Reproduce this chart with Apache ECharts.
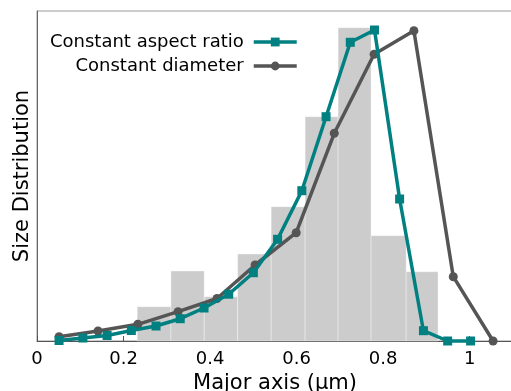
<!DOCTYPE html>
<html>
<head>
<meta charset="utf-8">
<script src="https://cdn.jsdelivr.net/npm/echarts@6/dist/echarts.min.js"></script>
<style>
  html, body { margin: 0; padding: 0; background: #fff; }
  #chart { width: 511px; height: 391px; }
</style>
</head>
<body>
<div id="chart"></div>
<script>
// histogram bins (um) and heights
var binLeft  = [0.2316, 0.3095, 0.3864, 0.4637, 0.5411, 0.6196, 0.6958, 0.7720, 0.8531];
var binRight = [0.3095, 0.3864, 0.4637, 0.5411, 0.6196, 0.6958, 0.7720, 0.8531, 0.9268];
var binHeight = [0.343, 0.70, 0.443, 0.87, 1.343, 2.243, 3.133, 1.053, 0.693];

// constant aspect ratio curve
var aspectX = [0.051, 0.106, 0.162, 0.218, 0.275, 0.331, 0.386, 0.443, 0.500, 0.556,
               0.612, 0.668, 0.724, 0.780, 0.838, 0.893, 0.949, 1.002];
var aspectY = [0.005, 0.03, 0.055, 0.105, 0.15, 0.223, 0.33, 0.468, 0.683, 1.017,
               1.503, 2.243, 2.987, 3.11, 1.42, 0.103, 0, 0];

// constant diameter curve
var diamX = [0.051, 0.141, 0.233, 0.326, 0.416, 0.504, 0.599, 0.687, 0.779, 0.871, 0.962, 1.054];
var diamY = [0.043, 0.10, 0.167, 0.293, 0.425, 0.76, 1.083, 2.077, 2.867, 3.103, 0.643, 0];

var xTicks = [0, 0.2, 0.4, 0.6, 0.8, 1];

var font = 'DejaVu Sans';
var teal = '#008080';
var grey = '#555555';

function zip(a, b) {
    return a.map(function (v, i) { return [v, b[i]]; });
}

var myChart = echarts.init(document.getElementById('chart'));

var option = {
    animation: false,
    grid: {
        left: 37, top: 11, right: -2, bottom: 50,
        outerBoundsMode: 'none',
        containLabel: false,
        show: true, borderColor: '#999', borderWidth: 1
    },
    legend: {
        data: ['Constant aspect ratio', 'Constant diameter'],
        orient: 'vertical',
        align: 'right',
        left: 50, top: 33,
        padding: 0,
        itemWidth: 43, itemHeight: 11, itemGap: 6,
        lineStyle: { width: 3.5 },
        textStyle: { fontFamily: font, fontSize: 18, lineHeight: 18, color: '#000', padding: [0, 5, 0, 0] }
    },
    xAxis: {
        type: 'value',
        min: 0, max: 1.1, interval: 0.2,
        name: 'Major axis (µm)',
        nameLocation: 'middle',
        nameGap: 29,
        nameTextStyle: { fontFamily: font, fontSize: 21, color: '#000' },
        axisLine: { lineStyle: { color: '#555', width: 1 } },
        axisTick: { inside: true, length: 5, lineStyle: { color: '#555' } },
        axisLabel: {
            fontFamily: font, fontSize: 18, color: '#000', margin: 9,
            showMaxLabel: false,
            formatter: function (v) {
                return xTicks.indexOf(Math.round(v * 10) / 10) >= 0 ? String(Math.round(v * 10) / 10) : '';
            }
        },
        splitLine: { show: false }
    },
    yAxis: {
        type: 'value',
        min: 0, max: 3.3,
        name: 'Size Distribution',
        nameLocation: 'middle',
        nameGap: 4,
        nameTextStyle: { fontFamily: font, fontSize: 21, color: '#000' },
        axisLine: { show: true, lineStyle: { color: '#666', width: 1 } },
        axisTick: { show: false },
        axisLabel: { show: false },
        splitLine: { show: false }
    },
    series: [
        {
            type: 'custom',
            name: 'hist',
            data: binLeft.map(function (l, i) { return [l, binRight[i], binHeight[i]]; }),
            renderItem: function (params, api) {
                var p0 = api.coord([api.value(0), api.value(2)]);
                var p1 = api.coord([api.value(1), 0]);
                return {
                    type: 'rect',
                    shape: { x: p0[0], y: p0[1], width: p1[0] - p0[0], height: p1[1] - p0[1] },
                    style: { fill: '#cccccc', stroke: 'rgba(255,255,255,0.35)', lineWidth: 1 }
                };
            },
            z: 1
        },
        {
            type: 'line',
            name: 'Constant diameter',
            data: zip(diamX, diamY),
            symbol: 'circle',
            symbolSize: 9,
            color: grey,
            lineStyle: { width: 3.5, color: grey },
            itemStyle: { color: grey },
            clip: false,
            z: 3
        },
        {
            type: 'line',
            name: 'Constant aspect ratio',
            data: zip(aspectX, aspectY),
            symbol: 'rect',
            symbolSize: 9,
            color: teal,
            lineStyle: { width: 3.5, color: teal },
            itemStyle: { color: teal },
            clip: false,
            z: 4
        }
    ]
};

myChart.setOption(option);
</script>
</body>
</html>
